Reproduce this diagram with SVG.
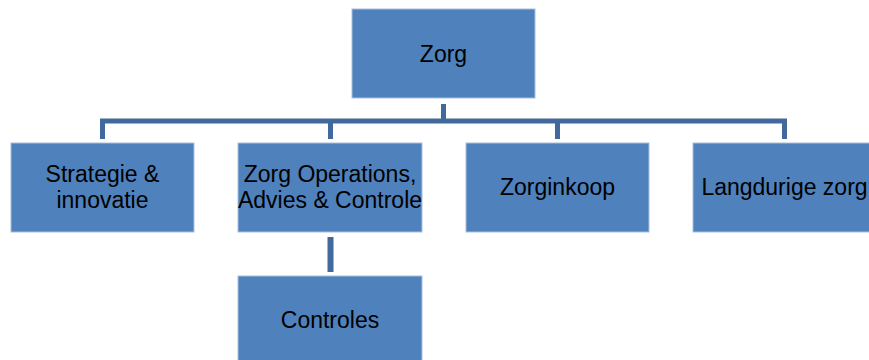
<svg xmlns="http://www.w3.org/2000/svg" width="869" height="360" viewBox="0 0 869 360">
<style>
.box{fill:#4F81BD;stroke:#A9C0DD;stroke-width:1}
.lbl{font-family:"Liberation Sans",Arial,sans-serif;font-size:23px;fill:#000;text-anchor:middle}
.con{fill:none;stroke:#41699C;stroke-width:5}
</style>
<rect width="869" height="360" fill="#fff"/>
<g id="connectors">
<path class="con" d="M443.5 104 V121 M102.5 139 V121 H784.5 V139 M330.5 121 V139 M557.5 121 V139"/>
<path class="con" d="M330.5 237 V272" style="stroke-width:6"/>
</g>
<g id="zorg"><rect class="box" x="352" y="9" width="183" height="89"/><text class="lbl" x="443.5" y="62">Zorg</text></g>
<g id="strategie"><rect class="box" x="11" y="143" width="183" height="89"/><text class="lbl" x="102.5" y="182">Strategie &amp;</text><text class="lbl" x="102.5" y="208">innovatie</text></g>
<g id="operations"><rect class="box" x="238" y="143" width="184" height="89"/><text class="lbl" x="330" y="182">Zorg Operations,</text><text class="lbl" x="330" y="208">Advies &amp; Controle</text></g>
<g id="zorginkoop"><rect class="box" x="466" y="143" width="183" height="89"/><text class="lbl" x="557.5" y="195">Zorginkoop</text></g>
<g id="langdurig"><rect class="box" x="693" y="143" width="183" height="89"/><text class="lbl" x="784.5" y="195">Langdurige zorg</text></g>
<g id="controles"><rect class="box" x="238" y="276" width="184" height="100"/><text class="lbl" x="330" y="328">Controles</text></g>
</svg>
